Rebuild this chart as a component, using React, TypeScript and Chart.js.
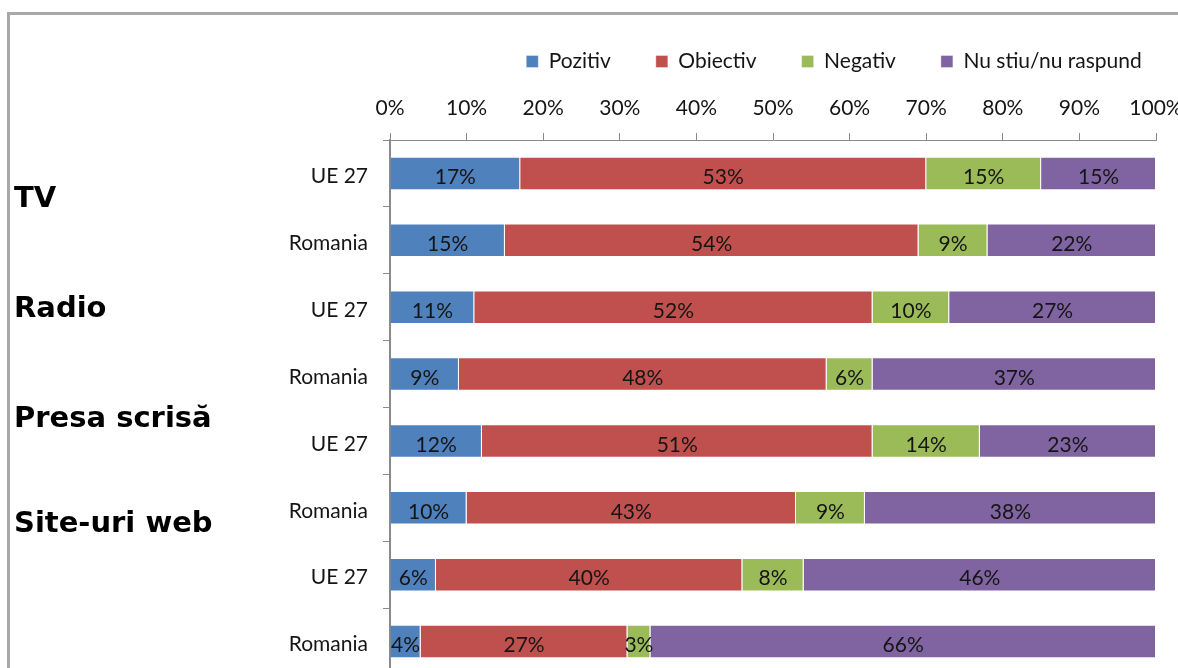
import React, { useEffect, useRef } from 'react';
import { Chart, registerables } from 'chart.js';

Chart.register(...registerables);

// ---- data ----
const categories = ['UE 27', 'Romania', 'UE 27', 'Romania', 'UE 27', 'Romania', 'UE 27', 'Romania'];
const seriesNames = ['Pozitiv', 'Obiectiv', 'Negativ', 'Nu stiu/nu raspund'];
const pozitiv = [17, 15, 11, 9, 12, 10, 6, 4];
const obiectiv = [53, 54, 52, 48, 51, 43, 40, 27];
const negativ = [15, 9, 10, 6, 14, 9, 8, 3];
const nuStiu = [15, 22, 27, 37, 23, 38, 46, 66];
const groupLabels = ['TV', 'Radio', 'Presa scrisă', 'Site-uri web'];
const xTickValues = [0, 10, 20, 30, 40, 50, 60, 70, 80, 90, 100];

// ---- styles / layout ----
const seriesColors = ['#4F81BD', '#C0504D', '#9BBB59', '#8064A2'];
const groupLabelBaselines = [207, 317, 427, 532];
const LEGEND_CENTER_X = 834;
const FONT = 'Lato';
const FS = 21;
const TEXT = '#151515';

const legendShift = {
  id: 'legendShift',
  afterLayout(chart: any) {
    const lg = chart.legend;
    if (!lg) return;
    const dx = LEGEND_CENTER_X - (lg.left + lg.right) / 2;
    lg.left += dx;
    lg.right += dx;
  },
};

const valueLabels = {
  id: 'valueLabels',
  afterDatasetsDraw(chart: any) {
    const ctx = chart.ctx;
    ctx.save();
    ctx.font = `${FS}px ${FONT}`;
    ctx.fillStyle = TEXT;
    ctx.textAlign = 'center';
    ctx.textBaseline = 'middle';
    chart.data.datasets.forEach((ds: any, di: number) => {
      const meta = chart.getDatasetMeta(di);
      meta.data.forEach((el: any, i: number) => {
        const v = ds.data[i];
        const p = el.getProps(['x', 'base', 'y'], true);
        ctx.fillText(`${v}%`, (p.x + p.base) / 2, p.y + 4);
      });
    });
    ctx.restore();
  },
};

const groupLabelPlugin = {
  id: 'groupLabels',
  afterDraw(chart: any) {
    const ctx = chart.ctx;
    ctx.save();
    ctx.font = 'bold 29px "DejaVu Sans"';
    ctx.fillStyle = '#000';
    ctx.textAlign = 'left';
    ctx.textBaseline = 'alphabetic';
    groupLabels.forEach((t, i) => ctx.fillText(t, 14, groupLabelBaselines[i]));
    ctx.restore();
  },
};

export default function App() {
  const ref = useRef<HTMLCanvasElement | null>(null);

  useEffect(() => {
    if (!ref.current) return;
    const series = [pozitiv, obiectiv, negativ, nuStiu];
    const chart = new Chart(ref.current, {
      type: 'bar',
      data: {
        labels: categories,
        datasets: seriesNames.map((name, i) => ({
          label: name,
          data: series[i],
          backgroundColor: seriesColors[i],
          borderColor: 'rgba(255,255,255,0.35)',
          borderWidth: 1,
          barPercentage: 0.5,
          categoryPercentage: 1,
        })),
      },
      options: {
        indexAxis: 'y',
        responsive: false,
        animation: false,
        layout: { padding: { top: 6, left: 0, right: 44, bottom: 0 } },
        plugins: {
          legend: {
            position: 'top',
            labels: {
              boxWidth: 12,
              boxHeight: 12,
              padding: 45,
              color: TEXT,
              font: { size: FS, family: FONT },
            },
          },
          tooltip: { enabled: false },
        },
        scales: {
          x: {
            position: 'top',
            stacked: true,
            min: 0,
            max: 100,
            afterBuildTicks: (s: any) => {
              s.ticks = xTickValues.map((v) => ({ value: v }));
            },
            ticks: {
              padding: 12,
              color: TEXT,
              font: { size: FS, family: FONT },
              maxRotation: 0,
              autoSkip: false,
              callback: (v: any) => `${v}%`,
            },
            grid: { drawOnChartArea: false, tickLength: 7, color: '#8a8a8a' },
            border: { color: '#8a8a8a', width: 1 },
            afterFit: (s: any) => {
              s.height = 58;
            },
          },
          y: {
            stacked: true,
            ticks: {
              padding: 15,
              color: TEXT,
              font: { size: FS, family: FONT },
              autoSkip: false,
              labelOffset: 3,
            },
            grid: { drawOnChartArea: false, tickLength: 7, color: '#8a8a8a', offset: true },
            border: { color: '#8a8a8a', width: 2 },
            afterFit: (s: any) => {
              s.width = 390;
              s.paddingTop = 0;
              s.paddingBottom = 0;
            },
          },
        },
      } as any,
      plugins: [legendShift, valueLabels, groupLabelPlugin],
    });
    return () => chart.destroy();
  }, []);

  return (
    <div
      style={{
        position: 'fixed',
        left: 0,
        top: 0,
        width: 1178,
        height: 668,
        overflow: 'hidden',
        background: '#fff',
      }}
    >
      <div
        style={{
          position: 'absolute',
          left: 7,
          top: 12,
          width: 1400,
          height: 900,
          border: '3px solid #a8a8a8',
          boxSizing: 'border-box',
        }}
      />
      <canvas
        ref={ref}
        width={1200}
        height={675}
        style={{ position: 'absolute', left: 0, top: 0, width: 1200, height: 675 }}
      />
    </div>
  );
}
